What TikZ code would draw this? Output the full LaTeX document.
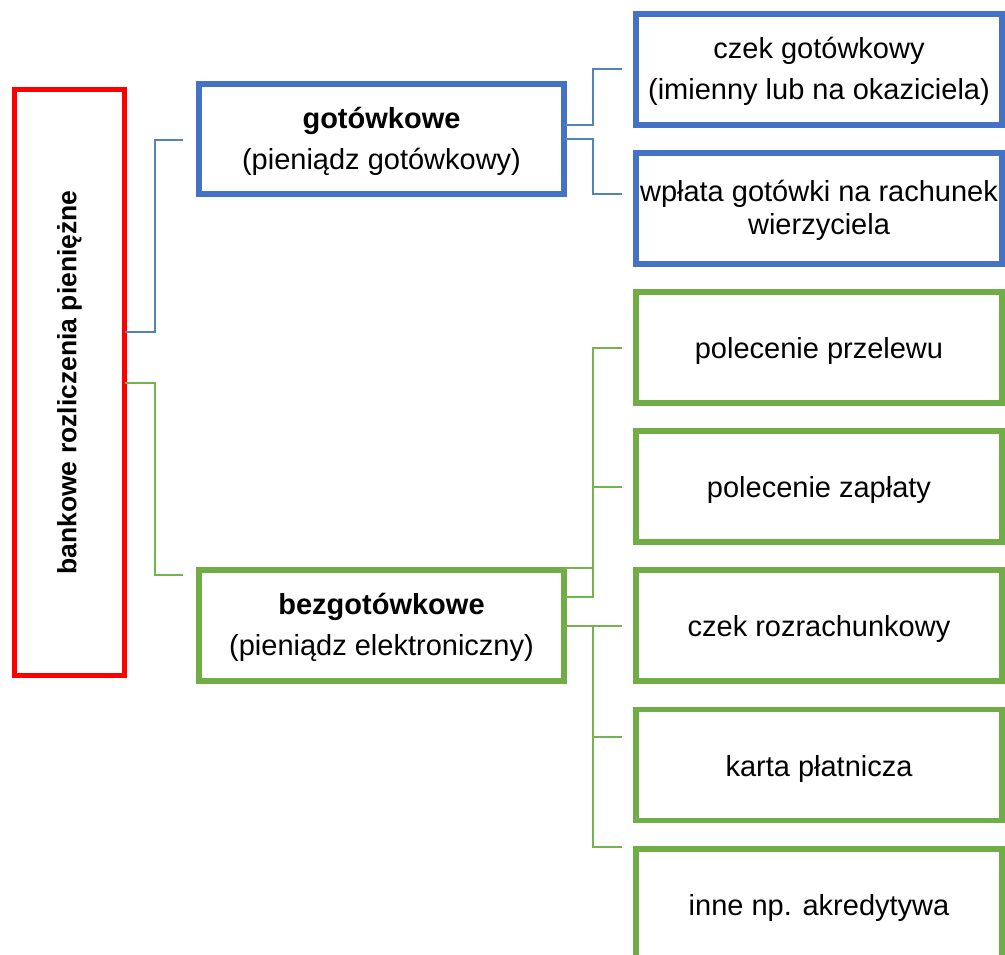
\documentclass[tikz,border=0pt]{standalone}
\usepackage{fontspec}
\setmainfont{Liberation Sans}
\definecolor{boxblue}{RGB}{68,114,196}
\definecolor{boxgreen}{RGB}{112,173,71}
\definecolor{boxred}{RGB}{255,0,0}
\definecolor{connblue}{RGB}{84,132,183}
\definecolor{conngreen}{RGB}{118,178,78}
\tikzset{
  basebox/.style={draw, line width=5.5pt, inner sep=0pt, outer sep=0pt},
  bluebox/.style={basebox, draw=boxblue, minimum width=366pt, minimum height=111pt},
  greenbox/.style={basebox, draw=boxgreen, minimum width=366pt, minimum height=111pt},
  midblue/.style={basebox, draw=boxblue, minimum width=365pt, minimum height=110pt},
  midgreen/.style={basebox, draw=boxgreen, minimum width=365pt, minimum height=111pt},
  rootbox/.style={draw=boxred, line width=5pt, inner sep=0pt, outer sep=0pt,
    minimum width=110pt, minimum height=585pt},
  boxtxt/.style={inner sep=0pt, align=center, font=\fontsize{29}{33}\selectfont},
  bconn/.style={draw=connblue, line width=1.6pt},
  gconn/.style={draw=conngreen, line width=1.4pt},
}
\begin{document}
\begin{tikzpicture}[x=1pt,y=-1pt]
\useasboundingbox (0,0) rectangle (1005,955);
% root
\node[rootbox] (root) at (69.5,382.5) {};
\node[rotate=90, font=\fontsize{26.5}{30}\selectfont\bfseries] (roottxt) at (root.center) {bankowe rozliczenia pieniężne};
% middle boxes
\node[midblue] (got) at (381.5,139) {};
\node[boxtxt] (gott) at ([yshift=-2pt]got.center) {\textbf{gotówkowe}\\[8pt](pieniądz gotówkowy)};
\node[midgreen] (bez) at (381.5,625.5) {};
\node[boxtxt] (bezt) at ([yshift=-2pt]bez.center) {\textbf{bezgotówkowe}\\[8pt](pieniądz elektroniczny)};
% right boxes
\node[bluebox] (c1) at (819,69.5) {};
\node[boxtxt] (c1t) at ([yshift=-2pt]c1.center) {czek gotówkowy\\[8pt](imienny lub na okaziciela)};
\node[bluebox] (c2) at (819,208.5) {};
\node[boxtxt] (c2t) at ([yshift=-2pt]c2.center) {wpłata gotówki na rachunek\\wierzyciela};
\node[greenbox] (n1) at (819,347.5) {};
\node[boxtxt] (n1t) at ([yshift=-3.5pt]n1.center) {polecenie przelewu};
\node[greenbox] (n2) at (819,486.5) {};
\node[boxtxt] (n2t) at ([yshift=-3.5pt]n2.center) {polecenie zapłaty};
\node[greenbox] (n3) at (819,625.5) {};
\node[boxtxt] (n3t) at ([yshift=-3.5pt]n3.center) {czek rozrachunkowy};
\node[greenbox] (n4) at (819,765) {};
\node[boxtxt] (n4t) at ([yshift=-3.5pt]n4.center) {karta płatnicza};
\node[greenbox] (n5) at (819,904.5) {};
\node[boxtxt] (n5t) at ([yshift=-3.5pt]n5.center) {inne np. akredytywa};
% free ends of connectors
\coordinate (gotIn) at (183,140);
\coordinate (bezIn) at (183,575);
\coordinate (c1In) at (622,69);
\coordinate (c2In) at (622,194);
\coordinate (n1In) at (622,348);
\coordinate (n2In) at (622,487);
\coordinate (n3In) at (622,626);
\coordinate (n4In) at (622,737);
\coordinate (n5In) at (622,847);
% left connectors
\draw[bconn] (root.east |- 0,332) -| (155,140) -- (gotIn);
\draw[gconn] (root.east |- 0,383) -| (155,575) -- (bezIn);
% blue right connectors
\draw[bconn] (got.east |- 0,125) -| (593,69) -- (c1In);
\draw[bconn] (got.east |- 0,139) -| (593,194) -- (c2In);
% green right connectors
\draw[gconn] (bez.east |- 0,568) -| (593,348) -- (n1In);
\draw[gconn] (bez.east |- 0,597) -| (593,487) -- (n2In);
\draw[gconn] (bez.east |- 0,626) -- (n3In);
\draw[gconn] (bez.east |- 0,626) -| (593,737) -- (n4In);
\draw[gconn] (bez.east |- 0,626) -| (593,847) -- (n5In);
\end{tikzpicture}
\end{document}
